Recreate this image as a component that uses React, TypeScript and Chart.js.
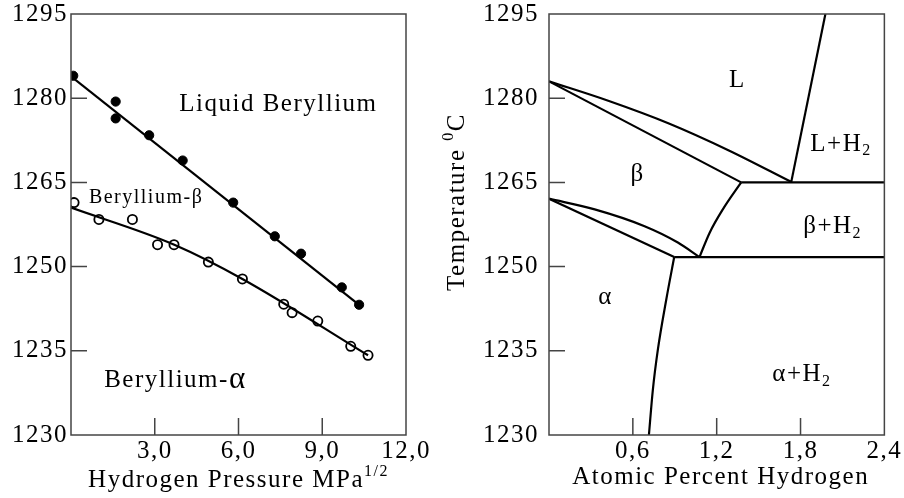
import React, { useEffect, useRef } from "react";
import { Chart, registerables } from "chart.js";

Chart.register(...registerables);

const FONT = "'Liberation Serif', 'Times New Roman', serif";
const SPACING = "1.5px";

// ---------- Left panel data ----------
const liquidPressure = [0.08, 1.6, 1.6, 2.8, 4.0, 5.81, 7.3, 8.24, 9.7, 10.32];
const liquidTemp = [1284.0, 1279.4, 1276.4, 1273.4, 1268.9, 1261.4, 1255.4, 1252.3, 1246.3, 1243.2];
const liquidFitPressure = [0, 10.32];
const liquidFitTemp = [1283.9, 1243.2];

const solidPressure = [0.11, 1.0, 2.2, 3.1, 3.69, 4.92, 6.14, 7.62, 7.92, 8.84, 10.02, 10.64];
const solidTemp = [1261.4, 1258.4, 1258.4, 1253.9, 1253.9, 1250.8, 1247.8, 1243.3, 1241.8, 1240.3, 1235.8, 1234.2];
const solidFitPressure = [0, 3.7, 6.14, 10.64];
const solidFitTemp = [1260.5, 1253.9, 1247.8, 1234.2];

const leftXTicks = [3, 6, 9, 12];
const leftXLabels = ["3,0", "6,0", "9,0", "12,0"];

// ---------- Right panel data (phase boundaries) ----------
const liquidusX = [0, 0.429, 0.858, 1.287, 1.733];
const liquidusY = [1283.0, 1279.5, 1275.5, 1270.7, 1265.1];
const solidusX = [0, 1.375];
const solidusY = [1283.0, 1265];
const lH2X = [1.733, 1.978];
const lH2Y = [1265, 1295];
const monotecticX = [1.375, 2.4];
const monotecticY = [1265, 1265];
const betaSolvusX = [1.077, 1.149, 1.244, 1.375];
const betaSolvusY = [1251.7, 1256.0, 1260.2, 1265];
const eutectoidX = [0.896, 2.4];
const eutectoidY = [1251.7, 1251.7];
const betaLowerX = [0, 0.327, 0.684, 0.922, 1.077];
const betaLowerY = [1262.1, 1260.2, 1257.2, 1254.3, 1251.7];
const alphaUpperX = [0, 0.896];
const alphaUpperY = [1262.1, 1251.7];
const alphaSolvusX = [0.715, 0.743, 0.779, 0.839, 0.896];
const alphaSolvusY = [1220, 1228.0, 1235.2, 1244.1, 1251.7];

const rightXTicks = [0.6, 1.2, 1.8, 2.4];
const rightXLabels = ["0,6", "1,2", "1,8", "2,4"];

// ---------- Shared temperature axis ----------
const yTickValues = [1220, 1235, 1250, 1265, 1280, 1295];
const yTickLabels = ["1230", "1235", "1250", "1265", "1280", "1295"];

type Part = { t: string; size?: number; dy?: number };
type Note = { x: number; y: number; parts: Part[]; size: number };

const leftNotes: Note[] = [
  { x: 7.43, y: 1278.9, size: 25, parts: [{ t: "Liquid Beryllium" }] },
  { x: 2.69, y: 1262.3, size: 20, parts: [{ t: "Beryllium-β" }] },
  { x: 3.74, y: 1229.8, size: 25, parts: [{ t: "Beryllium-" }, { t: "α", size: 31 }] },
];

const rightNotes: Note[] = [
  { x: 1.349, y: 1283.2, size: 25, parts: [{ t: "L" }] },
  { x: 2.09, y: 1271.8, size: 25, parts: [{ t: "L+H" }, { t: "2", size: 16, dy: 7 }] },
  { x: 0.634, y: 1266.4, size: 25, parts: [{ t: "β" }] },
  { x: 2.03, y: 1257.1, size: 25, parts: [{ t: "β+H" }, { t: "2", size: 16, dy: 7 }] },
  { x: 0.405, y: 1244.5, size: 25, parts: [{ t: "α" }] },
  { x: 1.81, y: 1230.7, size: 25, parts: [{ t: "α+H" }, { t: "2", size: 16, dy: 7 }] },
];

function drawParts(ctx: CanvasRenderingContext2D, cx: number, cy: number, parts: Part[], base: number) {
  (ctx as any).letterSpacing = SPACING;
  let total = 0;
  const widths = parts.map((p) => {
    ctx.font = `${p.size ?? base}px ${FONT}`;
    const w = ctx.measureText(p.t).width;
    total += w;
    return w;
  });
  let x = cx - total / 2;
  ctx.textAlign = "left";
  ctx.textBaseline = "middle";
  parts.forEach((p, i) => {
    ctx.font = `${p.size ?? base}px ${FONT}`;
    ctx.fillText(p.t, x, cy + (p.dy ?? 0));
    x += widths[i];
  });
}

function pts(xs: number[], ys: number[]) {
  return xs.map((x, i) => ({ x, y: ys[i] }));
}

function line(xs: number[], ys: number[], curved = false) {
  return {
    data: pts(xs, ys),
    showLine: true,
    borderColor: "#000",
    borderWidth: 2.2,
    pointRadius: 0,
    tension: curved ? 0.4 : 0,
    cubicInterpolationMode: curved ? "monotone" : "default",
    fill: false,
  };
}

function makeDecor(
  notes: Note[],
  xInner: number[],
  title: { text: Part[]; y: number; dx: number },
  yTitle?: { parts: Part[]; x: number; y: number }
) {
  return {
    id: "decor",
    beforeDraw(chart: any) {
      (chart.ctx as any).letterSpacing = SPACING;
    },
    afterDraw(chart: any) {
      const ctx: CanvasRenderingContext2D = chart.ctx;
      const { left, right, top, bottom } = chart.chartArea;
      const xs = chart.scales.x;
      const ys = chart.scales.y;
      ctx.save();
      ctx.strokeStyle = "#444";
      ctx.lineWidth = 1.5;
      ctx.strokeRect(left, top, right - left, bottom - top);
      ctx.beginPath();
      [1235, 1250, 1265, 1280].forEach((v) => {
        const py = ys.getPixelForValue(v);
        ctx.moveTo(left, py);
        ctx.lineTo(left + 16, py);
      });
      xInner.forEach((v) => {
        const px = xs.getPixelForValue(v);
        ctx.moveTo(px, bottom);
        ctx.lineTo(px, bottom - 17);
      });
      ctx.stroke();
      ctx.fillStyle = "#000";
      notes.forEach((n) => {
        drawParts(ctx, xs.getPixelForValue(n.x), ys.getPixelForValue(n.y), n.parts, n.size);
      });
      drawParts(ctx, (left + right) / 2 + title.dx, title.y, title.text, 25);
      if (yTitle) {
        ctx.save();
        ctx.translate(yTitle.x, yTitle.y);
        ctx.rotate(-Math.PI / 2);
        drawParts(ctx, 0, 0, yTitle.parts, 25);
        ctx.restore();
      }
      ctx.restore();
      (ctx as any).letterSpacing = "0px";
    },
  };
}

function baseOptions(
  xmin: number,
  xmax: number,
  xTicks: number[],
  xLabels: string[],
  yWidth: number,
  yPad: number,
  padRight: number
) {
  return {
    responsive: false,
    animation: false as const,
    events: [],
    layout: { padding: { top: 14, right: padRight, left: 0, bottom: 0 } },
    plugins: { legend: { display: false }, tooltip: { enabled: false }, title: { display: false } },
    scales: {
      x: {
        type: "linear" as const,
        min: xmin,
        max: xmax,
        grid: { display: false, drawTicks: false, tickLength: 0 },
        border: { display: false },
        afterBuildTicks: (s: any) => {
          s.ticks = xTicks.map((v) => ({ value: v }));
        },
        afterFit: (s: any) => {
          s.height = 63;
        },
        ticks: {
          padding: 4,
          color: "#000",
          maxRotation: 0,
          autoSkip: false,
          font: { family: FONT, size: 25, lineHeight: 1 },
          callback: (v: number) => {
            const i = xTicks.findIndex((t) => Math.abs(t - v) < 1e-6);
            return i >= 0 ? xLabels[i] : "";
          },
        },
      },
      y: {
        type: "linear" as const,
        min: 1220,
        max: 1295,
        grid: { display: false, drawTicks: false, tickLength: 0 },
        border: { display: false },
        afterBuildTicks: (s: any) => {
          s.ticks = yTickValues.map((v) => ({ value: v }));
        },
        afterFit: (s: any) => {
          s.width = yWidth;
        },
        ticks: {
          padding: yPad,
          color: "#000",
          autoSkip: false,
          font: { family: FONT, size: 25, lineHeight: 0.3 },
          callback: (v: number) => {
            const i = yTickValues.findIndex((t) => Math.abs(t - v) < 1e-6);
            return i >= 0 ? yTickLabels[i] : "";
          },
        },
      },
    },
  };
}

export default function App() {
  const leftRef = useRef<HTMLCanvasElement>(null);
  const rightRef = useRef<HTMLCanvasElement>(null);

  useEffect(() => {
    let left: Chart | null = null;
    let right: Chart | null = null;
    let cancelled = false;

    const build = () => {
      if (cancelled) return;
      left = new Chart(leftRef.current as HTMLCanvasElement, {
        type: "scatter",
        data: {
          datasets: [
            line(liquidFitPressure, liquidFitTemp) as any,
            line(solidFitPressure, solidFitTemp, true) as any,
            {
              data: pts(liquidPressure, liquidTemp),
              pointRadius: 4.6,
              pointBackgroundColor: "#000",
              pointBorderColor: "#000",
              pointBorderWidth: 1,
              showLine: false,
            },
            {
              data: pts(solidPressure, solidTemp),
              pointRadius: 4.6,
              pointBackgroundColor: "#fff",
              pointBorderColor: "#000",
              pointBorderWidth: 1.8,
              showLine: false,
            },
          ],
        },
        options: baseOptions(0, 12, leftXTicks, leftXLabels, 71, 3, 34) as any,
        plugins: [
          makeDecor(leftNotes, [3, 6, 9], {
            text: [{ t: "Hydrogen Pressure MPa" }, { t: "1/2", size: 16, dy: -8 }],
            y: 480,
            dx: 0,
          }),
        ],
      });

      right = new Chart(rightRef.current as HTMLCanvasElement, {
        type: "scatter",
        data: {
          datasets: [
            line(liquidusX, liquidusY, true),
            line(solidusX, solidusY),
            line(lH2X, lH2Y),
            line(monotecticX, monotecticY),
            line(betaSolvusX, betaSolvusY, true),
            line(eutectoidX, eutectoidY),
            line(betaLowerX, betaLowerY, true),
            line(alphaUpperX, alphaUpperY),
            line(alphaSolvusX, alphaSolvusY, true),
          ] as any,
        },
        options: baseOptions(0, 2.4, rightXTicks, rightXLabels, 129, 10, 19) as any,
        plugins: [
          makeDecor(
            rightNotes,
            [0.6, 1.2, 1.8],
            { text: [{ t: "Atomic Percent Hydrogen" }], y: 477, dx: 4 },
            { parts: [{ t: "Temperature " }, { t: "0", size: 16, dy: -8 }, { t: "C" }], x: 37, y: 202 }
          ),
        ],
      });
    };

    const fonts = (document as any).fonts;
    if (fonts && fonts.load) {
      Promise.all([
        fonts.load(`25px 'Liberation Serif'`),
        fonts.load(`16px 'Liberation Serif'`),
      ])
        .catch(() => null)
        .then(() => build());
    } else {
      build();
    }

    return () => {
      cancelled = true;
      if (left) left.destroy();
      if (right) right.destroy();
    };
  }, []);

  return (
    <div style={{ position: "fixed", left: 0, top: 0, width: 904, height: 498, background: "#fff" }}>
      <canvas ref={leftRef} width={440} height={498} style={{ position: "absolute", left: 0, top: 0 }} />
      <canvas ref={rightRef} width={484} height={498} style={{ position: "absolute", left: 420, top: 0 }} />
    </div>
  );
}
